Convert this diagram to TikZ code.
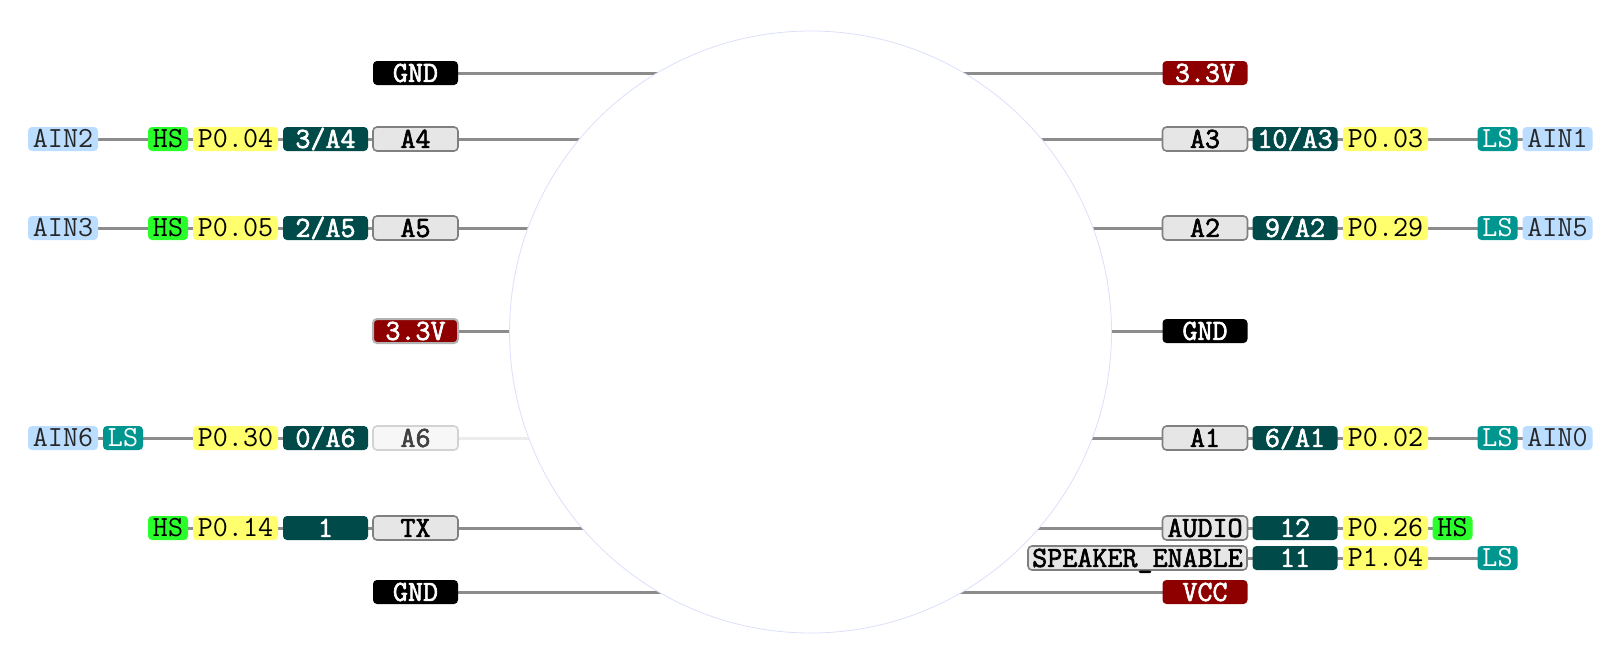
\documentclass[tikz,border=0pt]{standalone}
\usepackage{fontspec}
\newfontfamily\pinreg{Latin Modern Mono}
\newfontfamily\pinbold{Latin Modern Mono}[FakeBold=2.2]
\definecolor{wire}{HTML}{8C8C8C}
\definecolor{pwr}{HTML}{8E0000}
\definecolor{dteal}{HTML}{004A4A}
\definecolor{lteal}{HTML}{009690}
\definecolor{pyel}{HTML}{FFFF6E}
\definecolor{hsg}{HTML}{2BFF2B}
\definecolor{ainb}{HTML}{BBDDFF}
\definecolor{gbox}{HTML}{E6E6E6}
\definecolor{gedge}{HTML}{808080}
\definecolor{rim}{HTML}{DCE0FA}
\newcommand\pinfont{\pinreg\fontsize{14.6}{15}\selectfont}
\newcommand\pinfontb{\pinbold\fontsize{14.6}{15}\selectfont}
\pgfdeclarelayer{bg}
\pgfdeclarelayer{mid}
\pgfsetlayers{bg,mid,main}
\tikzset{
  pinbox/.style={rectangle, rounded corners=2pt, minimum height=12pt, inner sep=0pt,
    text height=8.9pt, text depth=0pt, minimum width=42.5pt, font=\pinfont},
  gndbox/.style={pinbox, fill=black, text=white, font=\pinfontb},
  pwrbox/.style={pinbox, fill=pwr, text=white, font=\pinfontb},
  namebox/.style={pinbox, fill=gbox, draw=gedge, line width=0.8pt, text=black, font=\pinfontb},
  numbox/.style={pinbox, fill=dteal, text=white, font=\pinfontb},
  portbox/.style={pinbox, fill=pyel, text=black},
  hsbox/.style={pinbox, fill=hsg, text=black, minimum width=20pt},
  lsbox/.style={pinbox, fill=lteal, text=white, minimum width=20pt},
  ainbox/.style={pinbox, fill=ainb, text=black!85, minimum width=35pt},
  wireline/.style={draw=wire, line width=1.5pt},
}
\begin{document}
\begin{tikzpicture}[x=0.5pt, y=-0.5pt]
\useasboundingbox (0,0) rectangle (1605,671);

% ---------- left side ----------
\node[gndbox] (lg1) at (415.5,73) {GND};

\node[ainbox]  (lain2) at (63,139) {AIN2};
\node[hsbox]   (lhs2)  at (168,139) {HS};
\node[portbox] (lp2)   at (235.5,139) {P0.04};
\node[numbox]  (ln2)   at (325.5,139) {3/A4};
\node[namebox] (la4)   at (415.5,139) {A4};

\node[ainbox]  (lain3) at (63,228) {AIN3};
\node[hsbox]   (lhs3)  at (168,228) {HS};
\node[portbox] (lp3)   at (235.5,228) {P0.05};
\node[numbox]  (ln3)   at (325.5,228) {2/A5};
\node[namebox] (la5)   at (415.5,228) {A5};

\node[pwrbox, draw=gray!60, line width=1pt] (lv4) at (415.5,331) {3.3V};

\node[ainbox]  (lain5) at (63,438) {AIN6};
\node[lsbox]   (lls5)  at (123,438) {LS};
\node[portbox] (lp5)   at (235.5,438) {P0.30};
\node[numbox]  (ln5)   at (325.5,438) {0/A6};
\node[namebox, fill=gray!6, draw=gray!35, text=black!75] (la6) at (415.5,438) {A6};

\node[hsbox]   (lhs6)  at (168,528) {HS};
\node[portbox] (lp6)   at (235.5,528) {P0.14};
\node[numbox]  (ln6)   at (325.5,528) {1};
\node[namebox] (ltx)   at (415.5,528) {TX};

\node[gndbox] (lg7) at (415.5,592) {GND};

% ---------- right side ----------
\node[pwrbox] (rv1) at (1205,73) {3.3V};

\node[namebox] (ra3)   at (1205,139) {A3};
\node[numbox]  (rn2)   at (1295,139) {10/A3};
\node[portbox] (rp2)   at (1385.5,139) {P0.03};
\node[lsbox]   (rls2)  at (1497.5,139) {LS};
\node[ainbox]  (rain2) at (1557.5,139) {AIN1};

\node[namebox] (ra2)   at (1205,228) {A2};
\node[numbox]  (rn3)   at (1295,228) {9/A2};
\node[portbox] (rp3)   at (1385.5,228) {P0.29};
\node[lsbox]   (rls3)  at (1497.5,228) {LS};
\node[ainbox]  (rain3) at (1557.5,228) {AIN5};

\node[gndbox] (rg4) at (1205,331) {GND};

\node[namebox] (ra1)   at (1205,438) {A1};
\node[numbox]  (rn5)   at (1295,438) {6/A1};
\node[portbox] (rp5)   at (1385.5,438) {P0.02};
\node[lsbox]   (rls5)  at (1497.5,438) {LS};
\node[ainbox]  (rain5) at (1557.5,438) {AIN0};

\node[namebox] (raud)  at (1205,528) {AUDIO};
\node[numbox]  (rn6)   at (1295,528) {12};
\node[portbox] (rp6)   at (1385.5,528) {P0.26};
\node[hsbox]   (rhs6)  at (1452.5,528) {HS};

\node[namebox, minimum width=109.5pt] (rspk) at (1137.5,558) {SPEAKER\_ENABLE};
\node[numbox]  (rn7)   at (1295,558) {11};
\node[portbox] (rp7)   at (1385.5,558) {P1.04};
\node[lsbox]   (rls7)  at (1497.5,558) {LS};

\node[pwrbox] (rvcc) at (1205,592) {VCC};

% ---------- board outline ----------
\begin{pgfonlayer}{mid}
\node[circle, minimum size=301pt, inner sep=0pt, fill=white, draw=rim, line width=0.4pt] (mcu) at (810.5,332) {};
\end{pgfonlayer}

% ---------- wires ----------
\begin{pgfonlayer}{bg}
\draw[wireline] (lg1.center) -- (lg1.center -| mcu.center);
\draw[wireline] (lain2.center) -- (la4.center -| mcu.center);
\draw[wireline] (lain3.center) -- (la5.center -| mcu.center);
\draw[wireline] (lv4.center) -- (lv4.center -| mcu.center);
\draw[wireline] (lain5.center) -- (ln5.center);
\draw[wireline, draw=gray!15] (la6.center) -- (la6.center -| mcu.center);
\draw[wireline] (lhs6.center) -- (ltx.center -| mcu.center);
\draw[wireline] (lg7.center) -- (lg7.center -| mcu.center);

\draw[wireline] (rv1.center -| mcu.center) -- (rv1.center);
\draw[wireline] (ra3.center -| mcu.center) -- (rain2.center);
\draw[wireline] (ra2.center -| mcu.center) -- (rain3.center);
\draw[wireline] (rg4.center -| mcu.center) -- (rg4.center);
\draw[wireline] (ra1.center -| mcu.center) -- (rain5.center);
\draw[wireline] (raud.center -| mcu.center) -- (rhs6.center);
\draw[wireline] (rspk.center) -- (rls7.center);
\draw[wireline] (rvcc.center -| mcu.center) -- (rvcc.center);
\end{pgfonlayer}
\end{tikzpicture}
\end{document}
